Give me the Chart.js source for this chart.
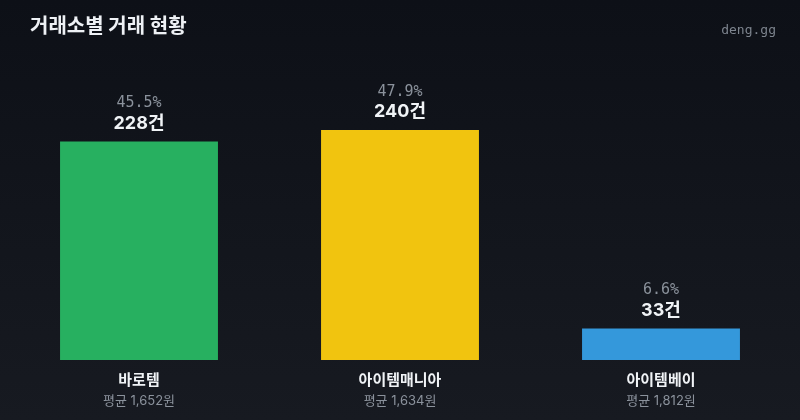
<!DOCTYPE html>
<html>
<head>
<meta charset="utf-8">
<script src="https://cdn.jsdelivr.net/npm/chart.js@4/dist/chart.umd.min.js"></script>
<style>
  html, body { margin: 0; padding: 0; }
  body { width: 800px; height: 420px; background: linear-gradient(180deg, #0d1017 0%, #171a21 100%); overflow: hidden; }
  #wrap { position: relative; width: 800px; height: 420px; }
</style>
</head>
<body>
<div id="wrap"><canvas id="myChart" width="800" height="420"></canvas></div>
<script>
const markets = ['바로템', '아이템매니아', '아이템베이'];
const counts = [228, 240, 33];
const shares = ['45.5%', '47.9%', '6.6%'];
const avgPrices = [1652, 1634, 1812];
const barColors = ['#27b060', '#f1c40f', '#3498db'];

const KR = 'Inter, "Noto Sans CJK KR", "Noto Sans", sans-serif';
const MONO = '"DejaVu Sans Mono", monospace';

// labels above/below bars + title, all through the scales
const labelPlugin = {
  id: 'labels',
  afterDatasetsDraw(chart) {
    const ctx = chart.ctx;
    const meta = chart.getDatasetMeta(0);
    const yScale = chart.scales.y;
    const base = yScale.getPixelForValue(0);
    ctx.save();
    ctx.textAlign = 'center';
    ctx.textBaseline = 'middle';
    meta.data.forEach((bar, i) => {
      const x = bar.x;
      const top = bar.y;
      ctx.fillStyle = '#8b929c';
      ctx.font = '15px ' + MONO;
      ctx.fillText(shares[i], x, top - 38);
      ctx.fillStyle = '#f0f3f6';
      ctx.font = 'bold 18px ' + KR;
      ctx.fillText(counts[i] + '건', x, top - 18);

      ctx.fillStyle = '#f0f3f6';
      ctx.font = 'bold 15px ' + KR;
      ctx.fillText(markets[i], x, base + 20);
      ctx.fillStyle = '#8b929c';
      ctx.font = '13px ' + KR;
      ctx.fillText('평균 ' + avgPrices[i].toLocaleString('en-US') + '원', x, base + 41);
    });

    ctx.textAlign = 'left';
    ctx.fillStyle = '#eef1f5';
    ctx.font = 'bold 20px ' + KR;
    ctx.fillText('거래소별 거래 현황', 30, 27);
    ctx.textAlign = 'right';
    ctx.fillStyle = '#7d848e';
    ctx.font = '13px ' + MONO;
    ctx.fillText('deng.gg', 776, 31);
    ctx.restore();
  }
};

const myChart = new Chart('myChart', {
  type: 'bar',
  data: {
    labels: markets,
    datasets: [{
      data: counts,
      backgroundColor: barColors,
      borderWidth: 0,
      barPercentage: 0.605,
      categoryPercentage: 1
    }]
  },
  options: {
    responsive: false,
    animation: false,
    devicePixelRatio: 1,
    layout: { padding: { left: 8.5, right: 8.5, top: 72.5, bottom: 60 } },
    plugins: {
      legend: { display: false },
      tooltip: { enabled: false }
    },
    scales: {
      x: { display: false },
      y: { display: false, min: 0, max: 300 }
    }
  },
  plugins: [labelPlugin]
});
</script>
</body>
</html>
